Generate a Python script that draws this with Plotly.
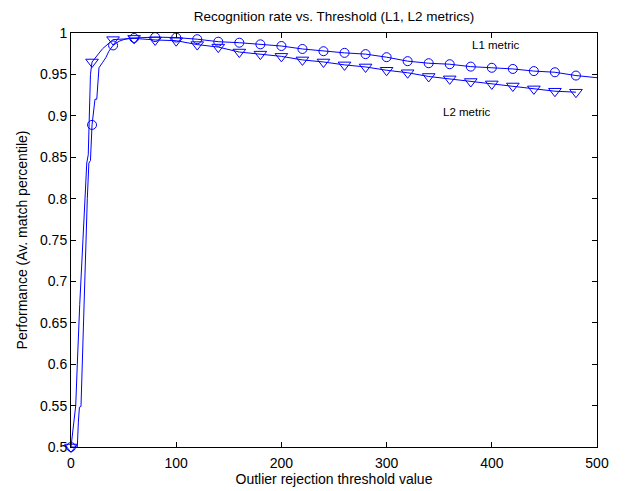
import plotly.graph_objects as go

# L1 metric (circles) - dense line trace
l1_line_x = [0, 6, 7, 8, 9.5, 11, 12.6, 14.5, 15.5, 17, 18.5, 20, 22.8, 24.5, 26.6, 29.8, 33, 36, 40, 45.6, 50, 56.7,
             60, 80, 100, 120, 140, 160, 180, 200, 220, 240, 260, 280, 300, 320, 340, 360, 380, 400, 420, 440, 460, 480, 500]
l1_line_y = [0.5, 0.5, 0.53, 0.548, 0.549, 0.618, 0.678, 0.751, 0.8, 0.843, 0.846, 0.889, 0.92, 0.92, 0.958, 0.964, 0.970, 0.978, 0.985, 0.990, 0.992, 0.994,
             0.994, 0.995, 0.9945, 0.9925, 0.9895, 0.9883, 0.9863, 0.9843, 0.9807, 0.978, 0.976, 0.9745, 0.9708, 0.966, 0.9635, 0.9623, 0.9594, 0.958, 0.9566, 0.954, 0.9526, 0.9486, 0.946]
# L1 markers
l1_mark_x = [0, 20, 40, 60, 80, 100, 120, 140, 160, 180, 200, 220, 240, 260, 280, 300, 320, 340, 360, 380, 400, 420, 440, 460, 480]
l1_mark_y = [0.5, 0.889, 0.985, 0.994, 0.995, 0.9945, 0.9925, 0.9895, 0.9883, 0.9863, 0.9843, 0.9807, 0.978, 0.976, 0.9745, 0.9708, 0.966, 0.9635, 0.9623, 0.9594, 0.958, 0.9566, 0.954, 0.9526, 0.9486]

# L2 metric (triangles)
l2_line_x = [0, 4.5, 6, 7.6, 8.3, 11.4, 13, 15, 16.4, 18.5, 20, 30, 40, 60, 80, 100, 120, 140, 160, 180, 200, 220, 240, 260, 280, 300, 320, 340, 360, 380, 400, 420, 440, 460, 480]
l2_line_y = [0.5, 0.55, 0.6, 0.66, 0.672, 0.751, 0.799, 0.843, 0.853, 0.95, 0.965, 0.981, 0.992, 0.9935, 0.9916, 0.9907, 0.986, 0.983, 0.977, 0.9745, 0.9718, 0.9675, 0.965, 0.9615, 0.959, 0.955, 0.952, 0.9475, 0.9446, 0.9414, 0.9385, 0.936, 0.9325, 0.9297, 0.9285]
l2_mark_x = [0, 20, 40, 60, 80, 100, 120, 140, 160, 180, 200, 220, 240, 260, 280, 300, 320, 340, 360, 380, 400, 420, 440, 460, 480]
l2_mark_y = [0.5, 0.965, 0.992, 0.9935, 0.9916, 0.9907, 0.986, 0.983, 0.977, 0.9745, 0.9718, 0.9675, 0.965, 0.9615, 0.959, 0.955, 0.952, 0.9475, 0.9446, 0.9414, 0.9385, 0.936, 0.9325, 0.9297, 0.9285]

x_ticks = [0, 100, 200, 300, 400, 500]
y_ticks = [0.5, 0.55, 0.6, 0.65, 0.7, 0.75, 0.8, 0.85, 0.9, 0.95, 1]
y_tick_text = ["0.5", "0.55", "0.6", "0.65", "0.7", "0.75", "0.8", "0.85", "0.9", "0.95", "1"]

BLUE = "rgb(0,0,255)"
fig = go.Figure()
fig.add_trace(go.Scatter(x=l1_line_x, y=l1_line_y, mode="lines", line=dict(color=BLUE, width=1), cliponaxis=False))
fig.add_trace(go.Scatter(x=l2_line_x, y=l2_line_y, mode="lines", line=dict(color=BLUE, width=1), cliponaxis=False))
fig.add_trace(go.Scatter(x=l1_mark_x, y=l1_mark_y, mode="markers", cliponaxis=False,
                         marker=dict(symbol="circle-open", size=9, color=BLUE, line=dict(width=1, color=BLUE))))
fig.add_trace(go.Scatter(x=l2_mark_x, y=l2_mark_y, mode="markers", cliponaxis=False,
                         marker=dict(symbol="triangle-down-open", size=11, color=BLUE, line=dict(width=1, color=BLUE))))

fig.add_annotation(x=404, y=0.985, text="L1 metric", showarrow=False, font=dict(size=11.5, color="black"))
fig.add_annotation(x=376, y=0.905, text="L2 metric", showarrow=False, font=dict(size=11.5, color="black"))

axis_common = dict(showgrid=False, zeroline=False, showline=True, linecolor="black", linewidth=1,
                   mirror="ticks", ticks="inside", ticklen=5, tickcolor="black", tickwidth=1,
                   automargin=False, tickfont=dict(size=14, color="black"))
fig.update_layout(
    width=628, height=483,
    margin=dict(l=63, r=39, t=25, b=44),
    paper_bgcolor="white", plot_bgcolor="white",
    font=dict(family="Liberation Sans, Arial, sans-serif", color="black"),
    showlegend=False,
    title=dict(text="Recognition rate vs. Threshold (L1, L2 metrics)", xref="paper", x=0.5, xanchor="center",
               y=0.983, yanchor="middle", font=dict(size=13.5, color="black")),
    xaxis=dict(range=[0, 500], tickvals=x_ticks, ticklabelstandoff=3,
               title=dict(text="Outlier rejection threshold value", font=dict(size=14), standoff=3), **axis_common),
    yaxis=dict(range=[0.5, 1], tickvals=y_ticks, ticktext=y_tick_text,
               title=dict(text="Performance (Av. match percentile)", font=dict(size=14), standoff=9), **axis_common),
)
fig.write_html("out.html")
